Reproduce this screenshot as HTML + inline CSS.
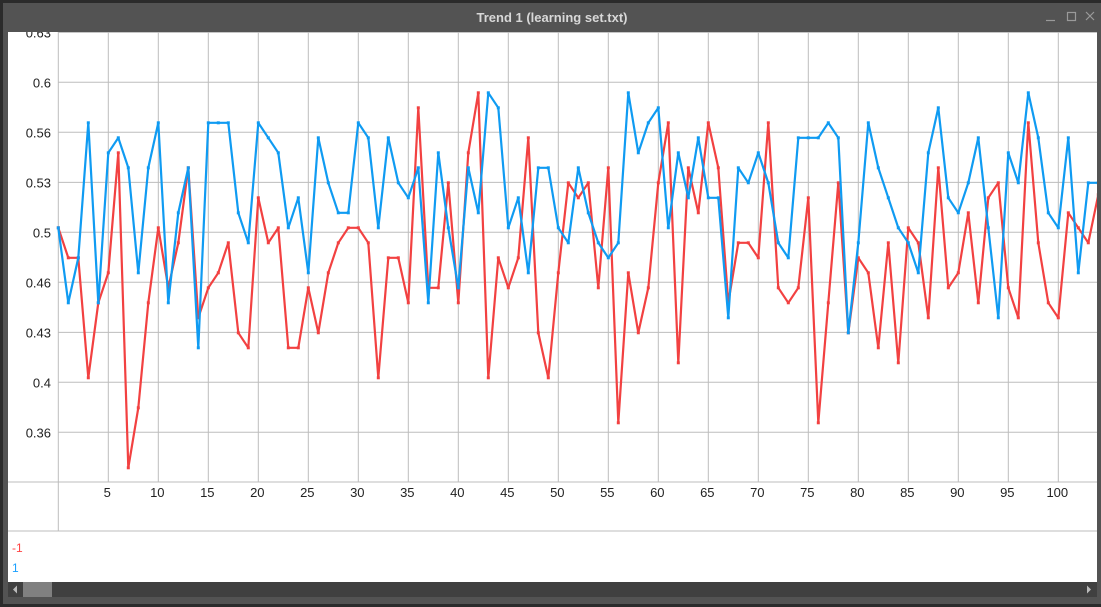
<!DOCTYPE html>
<html><head><meta charset="utf-8"><style>
body{margin:0;background:#2b2b2b;width:1101px;height:607px;overflow:hidden;font-family:"Liberation Sans",sans-serif}
#win{position:absolute;left:3px;top:3px;width:1098px;height:601px;background:#535353}
#title{position:absolute;left:0;top:7px;width:1098px;text-align:center;color:#d8d8d8;font-size:13px;font-weight:bold}
</style></head><body>
<div id="win">
<div id="title">Trend 1 (learning set.txt)</div>
</div>
<svg id="svg" width="1101" height="607" style="position:absolute;left:0;top:0">
<defs><clipPath id="pa"><rect x="8" y="32" width="1089" height="550"/></clipPath></defs>
<g stroke="#9a9a9a" stroke-width="1.2" fill="none">
<line x1="1046" y1="20.5" x2="1055" y2="20.5"/>
<rect x="1067.5" y="12.5" width="8" height="8"/>
<path d="M1086 12L1094 20M1094 12L1086 20"/>
</g>
<rect x="8" y="32" width="1089" height="550" fill="#fff"/>
<g id="grid" clip-path="url(#pa)"></g>
<g id="series"></g>
<text x="12" y="552" fill="#ff4444" font-size="12">-1</text>
<text x="12" y="572" fill="#1aa0ff" font-size="12">1</text>
<rect x="8" y="582" width="1089" height="15" fill="#404040"/>
<rect x="23" y="582" width="29" height="15" fill="#808080"/>
<path d="M13 589.5L17 585.5L17 593.5Z" fill="#bbb"/>
<path d="M1091 589.5L1087 585.5L1087 593.5Z" fill="#bbb"/>
</svg>
<script>
const yTicks=["0.63","0.6","0.56","0.53","0.5","0.46","0.43","0.4","0.36"];
const yTickVals=[0.6333,0.6,0.5667,0.5333,0.5,0.4667,0.4333,0.4,0.3667];
const xTicks=[5,10,15,20,25,30,35,40,45,50,55,60,65,70,75,80,85,90,95,100];
const seriesBlue=[0.503,0.453,0.483,0.573,0.453,0.553,0.563,0.543,0.473,0.543,0.573,0.453,0.513,0.543,0.423,0.573,0.573,0.573,0.513,0.493,0.573,0.563,0.553,0.503,0.523,0.473,0.563,0.533,0.513,0.513,0.573,0.563,0.503,0.563,0.533,0.523,0.543,0.453,0.553,0.503,0.463,0.543,0.513,0.593,0.583,0.503,0.523,0.473,0.543,0.543,0.503,0.493,0.543,0.513,0.493,0.483,0.493,0.593,0.553,0.573,0.583,0.503,0.553,0.523,0.563,0.523,0.523,0.443,0.543,0.533,0.553,0.533,0.493,0.483,0.563,0.563,0.563,0.573,0.563,0.433,0.493,0.573,0.543,0.523,0.503,0.493,0.473,0.553,0.583,0.523,0.513,0.533,0.563,0.503,0.443,0.553,0.533,0.593,0.563,0.513,0.503,0.563,0.473,0.533,0.533];
const seriesRed=[0.503,0.483,0.483,0.403,0.453,0.473,0.553,0.343,0.383,0.453,0.503,0.463,0.493,0.543,0.443,0.463,0.473,0.493,0.433,0.423,0.523,0.493,0.503,0.423,0.423,0.463,0.433,0.473,0.493,0.503,0.503,0.493,0.403,0.483,0.483,0.453,0.583,0.463,0.463,0.533,0.453,0.553,0.593,0.403,0.483,0.463,0.483,0.563,0.433,0.403,0.473,0.533,0.523,0.533,0.463,0.543,0.373,0.473,0.433,0.463,0.533,0.573,0.413,0.543,0.513,0.573,0.543,0.453,0.493,0.493,0.483,0.573,0.463,0.453,0.463,0.523,0.373,0.453,0.533,0.433,0.483,0.473,0.423,0.493,0.413,0.503,0.493,0.443,0.543,0.463,0.473,0.513,0.453,0.523,0.533,0.463,0.443,0.573,0.493,0.453,0.443,0.513,0.503,0.493,0.525];
const NS="http://www.w3.org/2000/svg";
const X=i=>58.3+i*10;
const Y=v=>232.3-(v-0.5)*1500;
function mk(t,a,p){const e=document.createElementNS(NS,t);for(const k in a)e.setAttribute(k,a[k]);p.appendChild(e);return e;}
const grid=document.getElementById('grid');
yTickVals.forEach((v,i)=>{
 const l=mk('line',{x1:58,x2:1097,y1:Y(v),y2:Y(v),stroke:'#bdbdbd','stroke-width':1},grid);
 
 
 const t=mk('text',{x:51,y:Y(v)+5,'text-anchor':'end','font-size':13,fill:'#222'},grid);t.textContent=yTicks[i];
 
 
});
xTicks.forEach(v=>{
 const l=mk('line',{x1:X(v),x2:X(v),y1:32,y2:482,stroke:'#bdbdbd','stroke-width':1},grid);
 
 
 const t=mk('text',{x:X(v)-1,y:497,'text-anchor':'middle','font-size':13,fill:'#222'},grid);t.textContent=v;
 
 
});
const a1=mk('line',{x1:8,x2:1097,y1:482,y2:482,stroke:'#bdbdbd'},grid);


const a2=mk('line',{x1:8,x2:1097,y1:531,y2:531,stroke:'#bdbdbd'},grid);


const a3=mk('line',{x1:58.3,x2:58.3,y1:32,y2:531,stroke:'#bdbdbd'},grid);


const ser=document.getElementById('series');
const clip=mk('clipPath',{id:'cp'},ser);mk('rect',{x:8,y:32,width:1089,height:450},clip);
function draw(data,col,name){
 const g=mk('g',{'clip-path':'url(#cp)'},ser);
 
 
 const p=mk('polyline',{points:data.map((v,i)=>X(i)+','+Y(v)).join(' '),fill:'none',stroke:col,'stroke-width':2.2,'stroke-linejoin':'round'},g);
 
 
 data.forEach((v,i)=>{const r=mk('rect',{x:X(i)-1.5,y:Y(v)-1.5,width:3,height:3,fill:col},g);
 
 });
}
draw(seriesRed,'#f24141','series-minus1');
draw(seriesBlue,'#0f9bf2','series-1');
</script>
</body></html>
